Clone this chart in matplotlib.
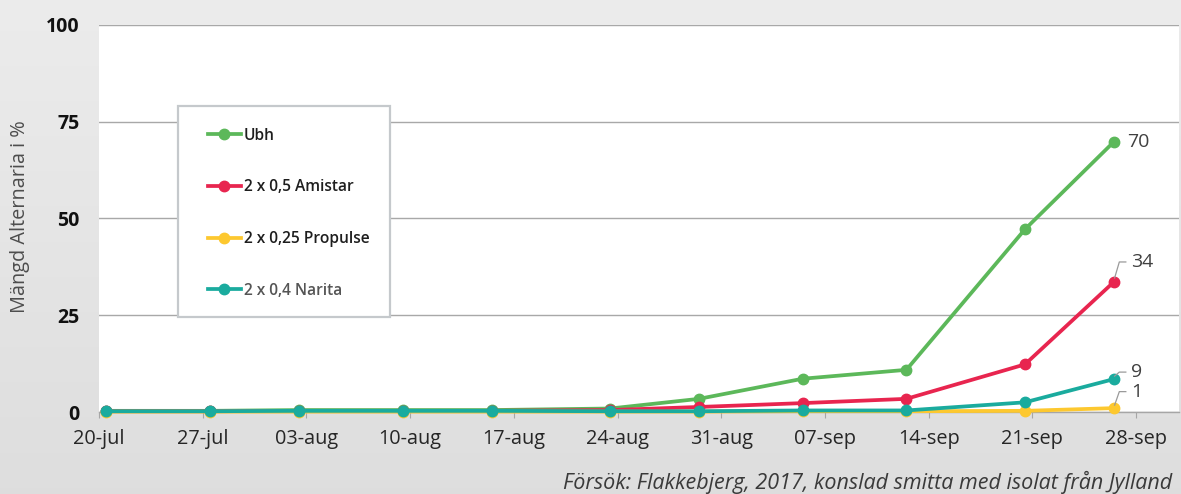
import numpy as np
import pandas as pd
import matplotlib
matplotlib.use("Agg")
import matplotlib.pyplot as plt
import matplotlib.transforms as mtransforms
from matplotlib.patches import Rectangle

plt.rcParams['font.family'] = ['Open Sans', 'DejaVu Sans']

# data
dates = ['2017-07-20', '2017-07-27', '2017-08-02', '2017-08-09', '2017-08-15', '2017-08-23',
         '2017-08-29', '2017-09-05', '2017-09-12', '2017-09-20', '2017-09-26']
ubh = [0.3, 0.3, 0.5, 0.5, 0.5, 0.9, 3.4, 8.6, 10.9, 47.2, 69.8]
amistar = [0.2, 0.2, 0.3, 0.3, 0.3, 0.5, 1.3, 2.3, 3.4, 12.3, 33.6]
propulse = [0.1, 0.1, 0.1, 0.1, 0.1, 0.1, 0.1, 0.2, 0.2, 0.3, 1.0]
narita = [0.2, 0.2, 0.3, 0.3, 0.3, 0.2, 0.2, 0.4, 0.4, 2.5, 8.5]
series_names = ['Ubh', '2 x 0,5 Amistar', '2 x 0,25 Propulse', '2 x 0,4 Narita']
end_labels = ['70', '34', '1', '9']
tick_labels = ['20-jul', '27-jul', '03-aug', '10-aug', '17-aug', '24-aug',
               '31-aug', '07-sep', '14-sep', '21-sep', '28-sep']
y_ticks = [0, 25, 50, 75, 100]

colors = ['#5cb85a', '#e8254f', '#fdc82f', '#1aab9e']

start = pd.Timestamp('2017-07-20')
x = (pd.to_datetime(dates) - start).days.values + 0.5

fig = plt.figure(figsize=(11.81, 4.94), dpi=100)

# gray gradient background
bg = fig.add_axes([0, 0, 1, 1], zorder=-10)
grad = np.linspace(0.925, 0.87, 256).reshape(-1, 1)
bg.imshow(np.dstack([grad, grad, grad]), aspect='auto', extent=[0, 1, 0, 1])
bg.axis('off')

ax = fig.add_axes([99 / 1181, 1 - 412 / 494, 1080 / 1181, 387 / 494])
ax.set_facecolor('white')

all_series = [ubh, amistar, propulse, narita]
for vals, name, c in zip(all_series, series_names, colors):
    ax.plot(x, vals, color=c, lw=2.7, marker='o', markersize=7.5,
            label=name, zorder=3, clip_on=False)

ax.set_xlim(0, 72.9)
ax.set_ylim(0, 100)
ax.set_xticks(np.arange(0, 71, 7))
ax.set_xticklabels(tick_labels, fontsize=14.3, color='#262626')
ax.set_yticks(y_ticks)
ax.set_yticklabels([str(v) for v in y_ticks], fontsize=14, fontweight='bold', color='#111111')
ax.tick_params(axis='x', length=4, color='#a6a6a6', pad=8)
ax.tick_params(axis='y', length=0, pad=14)
ax.grid(axis='y', color='#a8a8a8', lw=1)
ax.set_axisbelow(True)
for s in ['top', 'right', 'left']:
    ax.spines[s].set_visible(False)
ax.spines['bottom'].set_color('#a6a6a6')
ax.spines['bottom'].set_linewidth(1)

# legend box
ax.add_patch(Rectangle((0.0731, 0.2455), 0.196, 0.545, transform=ax.transAxes,
                       facecolor='white', edgecolor='#c5c9cc', lw=1.6, zorder=2.5))
leg = ax.legend(loc='upper left', bbox_to_anchor=(0.101, 0.735), frameon=False,
                fontsize=11.2, handlelength=2.1, handletextpad=0.2, labelspacing=2.3,
                borderpad=0, borderaxespad=0, numpoints=1)
for t in leg.get_texts():
    t.set_fontweight('semibold')
    t.set_color('#1e1e1e')
leg.get_texts()[3].set_color('#555555')

# end labels with leaders (offsets in pixels)
text_off = [(13, 0), (17, 20), (17, 16.5), (17, 7)]
leaders = [None,
           [(0.8, 4), (5.5, 20), (12, 20)],
           [(0.8, 3), (5.5, 16.5), (12, 16.5)],
           [(0.8, 3), (5.5, 7), (12, 7)]]
for vals, lab, off, ld in zip(all_series, end_labels, text_off, leaders):
    px, py = x[-1], vals[-1]
    tr = fig.dpi_scale_trans + mtransforms.ScaledTranslation(px, py, ax.transData)
    if ld is not None:
        ax.plot([p[0] / 100 for p in ld], [p[1] / 100 for p in ld], transform=tr,
                color='#9a9a9a', lw=0.9, zorder=4, clip_on=False)
    ax.text(off[0] / 100, off[1] / 100, lab, transform=tr, fontsize=14,
            color='#404040', ha='left', va='center', zorder=5)

fig.text(20 / 1181, 1 - 217 / 494, 'Mängd Alternaria i %', rotation=90,
         fontsize=14.3, color='#4d4d4d', ha='center', va='center')
fig.text(1172 / 1181, 1 - 482 / 494,
         'Försök: Flakkebjerg, 2017, konslad smitta med isolat från Jylland',
         fontsize=15.5, style='italic', color='#3a3a3a', ha='right', va='center')

fig.savefig('out.png', dpi=100)
